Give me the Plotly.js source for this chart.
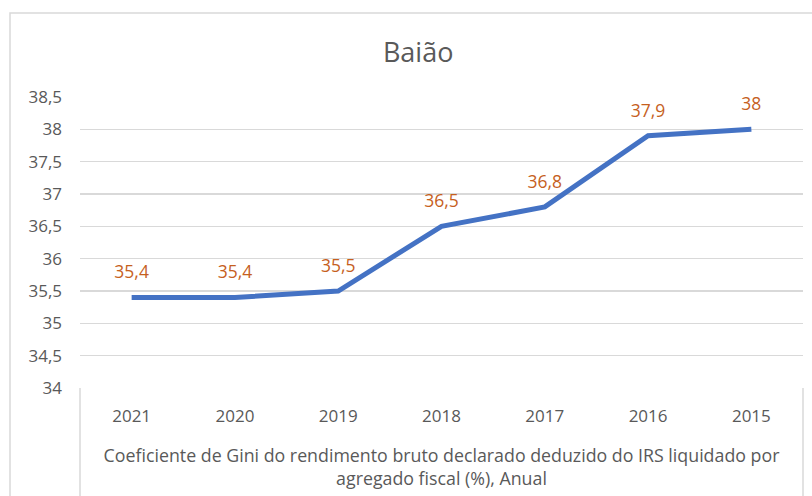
<!DOCTYPE html>
<html>
<head>
<meta charset="utf-8">
<script src="https://cdn.plot.ly/plotly-3.0.1.min.js"></script>
<style>html,body{margin:0;padding:0;background:#fff;}#chart{width:812px;height:496px;}</style>
</head>
<body>
<div id="chart"></div>
<script>
const years = ['2021','2020','2019','2018','2017','2016','2015'];
const gini = [35.4, 35.4, 35.5, 36.5, 36.8, 37.9, 38];
const chartTitle = 'Baião';
const xTitle = 'Coeficiente de Gini do rendimento bruto declarado deduzido do IRS liquidado por<br>agregado fiscal (%), Anual';

const labels = gini.map(v => String(v).replace('.', ','));
const font = '"Open Sans", "Noto Sans", sans-serif';
const gray = '#595959';

const trace = {
  x: years, y: gini, type: 'scatter', mode: 'lines+markers+text',
  line: {color: '#4472C4', width: 5},
  marker: {size: 22, color: 'rgba(0,0,0,0)'},
  text: labels, textposition: 'top center',
  textfont: {family: font, size: 17.5, color: '#C65F1E'},
  cliponaxis: false, hoverinfo: 'skip'
};

const layout = {
  width: 812, height: 496,
  margin: {l: 80, r: 9, t: 97, b: 108},
  paper_bgcolor: '#fff', plot_bgcolor: '#fff',
  separators: ',.',
  showlegend: false,
  font: {family: font, color: gray},
  title: {text: chartTitle, x: 0.515, xanchor: 'center', y: 0.895, yanchor: 'middle',
          font: {family: font, size: 27, color: gray}},
  xaxis: {type: 'category', range: [-0.5, 6.5], showgrid: false, zeroline: false,
          showline: false, ticks: '', ticklabelstandoff: 16,
          tickfont: {family: font, size: 17, color: gray},
          title: {text: xTitle, standoff: 23, font: {family: font, size: 17.8, color: gray}}},
  yaxis: {range: [34, 38.5], dtick: 0.5, showgrid: true, gridcolor: '#d9d9d9', gridwidth: 1.3,
          zeroline: false, showline: false, ticks: '', ticklabelstandoff: 17,
          tickfont: {family: font, size: 17, color: gray}},
  shapes: [
    {type: 'rect', xref: 'paper', yref: 'paper', x0: -70/723, x1: 1.05, y0: -0.6, y1: 375/291,
     line: {color: '#d9d9d9', width: 1.5}, fillcolor: 'rgba(0,0,0,0)', layer: 'below'},
    {type: 'line', xref: 'paper', yref: 'paper', x0: 0, x1: 0, y0: 0, y1: -0.6, line: {color: '#d9d9d9', width: 1.5}},
    {type: 'line', xref: 'paper', yref: 'paper', x0: 1, x1: 1, y0: 0, y1: -0.6, line: {color: '#d9d9d9', width: 1.5}}
  ]
};

Plotly.newPlot('chart', [trace], layout, {staticPlot: true, displayModeBar: false});
</script>
</body>
</html>
